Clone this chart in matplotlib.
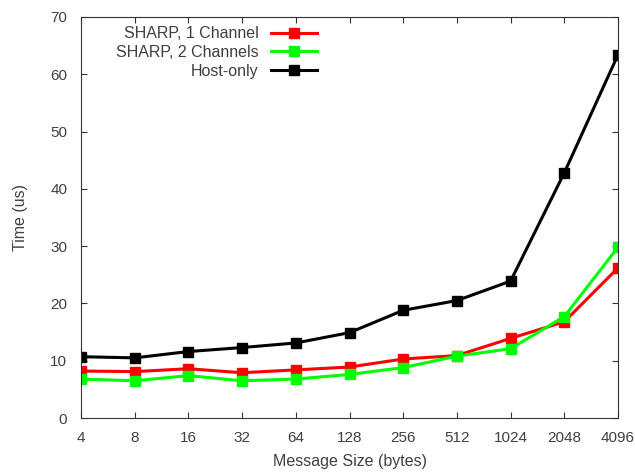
import matplotlib.pyplot as plt

sizes = ['4', '8', '16', '32', '64', '128', '256', '512', '1024', '2048', '4096']
sharp_1ch = [8.2, 8.1, 8.6, 7.9, 8.4, 8.9, 10.3, 10.9, 13.9, 16.8, 26.2]
sharp_2ch = [6.8, 6.5, 7.4, 6.5, 6.8, 7.6, 8.8, 10.8, 12.1, 17.7, 29.8]
host_only = [10.7, 10.5, 11.6, 12.3, 13.1, 14.9, 18.8, 20.5, 23.9, 42.8, 63.4]

plt.rcParams['font.family'] = 'Liberation Sans'
txt = '#404040'

fig = plt.figure(figsize=(6.35, 4.72), dpi=100)
ax = fig.add_axes([0.1276, 0.1144, 0.8456, 0.8496])

x = range(len(sizes))
ax.plot(x, sharp_1ch, color='#ff0000', lw=2.2, marker='s', ms=6.5, label='SHARP, 1 Channel')
ax.plot(x, sharp_2ch, color='#00ff00', lw=2.2, marker='s', ms=6.5, label='SHARP, 2 Channels')
ax.plot(x, host_only, color='black', lw=2.2, marker='s', ms=6.5, label='Host-only')

ax.set_xlim(0, len(sizes) - 1)
ax.set_ylim(0, 70)
ax.set_xticks(list(x))
ax.set_xticklabels(sizes)
ax.set_yticks(range(0, 71, 10))
ax.tick_params(direction='in', top=True, right=True, labelsize=11, length=4,
               color='#333333', labelcolor=txt)
ax.tick_params(axis='y', pad=10)
ax.tick_params(axis='x', pad=9)
for s in ax.spines.values():
    s.set_color('#333333')

ax.set_xlabel('Message Size (bytes)', fontsize=11.5, color=txt, labelpad=7)
ax.set_ylabel('Time (us)', fontsize=11.5, color=txt, labelpad=16)

ax.legend(loc='upper right', bbox_to_anchor=(0.4395, 0.977), markerfirst=False, frameon=False,
          fontsize=11.5, handlelength=2.9, handletextpad=0.75, labelspacing=0.23,
          borderpad=0, borderaxespad=0, labelcolor=txt)

fig.savefig('out.png', dpi=100)
